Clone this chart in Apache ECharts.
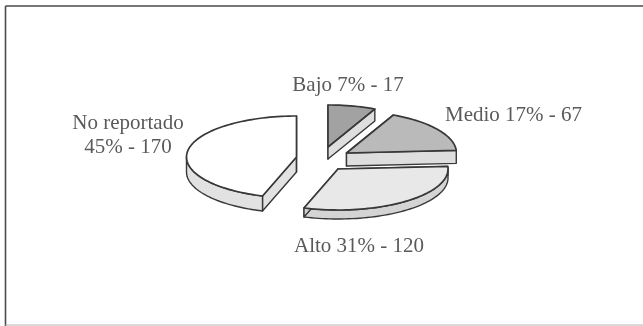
<!DOCTYPE html>
<html>
<head>
<meta charset="utf-8">
<style>html,body{margin:0;padding:0;background:#fff}#chart{width:643px;height:326px}</style>
<script src="https://cdn.jsdelivr.net/npm/echarts@6/dist/echarts.min.js"></script>
</head>
<body>
<div id="chart"></div>
<script>
// Nivel de riesgo: categories, share of the total and number of cases
const categories = ['Bajo', 'Medio', 'Alto', 'No reportado'];
const percents = [7, 17, 31, 45];
const counts = [17, 67, 120, 170];

// Exploded centre of each wedge, ellipse radii and extrusion depth
const wedgeCentres = [[328, 147], [346.5, 153], [338, 169], [296.5, 157]];
const radiusX = [110, 110, 110, 110];
const radiusY = [42, 42, 41, 41];
const depths = [12, 13, 9, 15];
const topColours = ['#a2a2a2', '#bababa', '#e8e8e8', '#ffffff'];
const wallColours = ['#dedede', '#dedede', '#d4d4d4', '#e2e2e2'];
const labelAnchors = [[348, 85, 'center'], [445, 115, 'left'], [359, 246, 'center'], [128, 135, 'center']];
const outline = '#383838';
const textColour = '#5a5a5a';

function captionFor(i) {
  const stats = percents[i] + '% - ' + counts[i];
  return i === 3 ? categories[i] + '\n' + stats : categories[i] + ' ' + stats;
}

// Point on a slice's top ellipse; angle in degrees, counter-clockwise from east
function rimPoint(i, deg) {
  const t = deg * Math.PI / 180;
  return [wedgeCentres[i][0] + radiusX[i] * Math.cos(t), wedgeCentres[i][1] - radiusY[i] * Math.sin(t)];
}

function arcPoints(i, from, to) {
  const n = Math.max(2, Math.ceil(Math.abs(to - from) / 2));
  const pts = [];
  for (let k = 0; k <= n; k++) pts.push(rimPoint(i, from + (to - from) * k / n));
  return pts;
}

const drop = (pts, d) => pts.map(p => [p[0], p[1] + d]);

function wall(points, fill, z) {
  return { type: 'polygon', z2: z, shape: { points }, style: { fill, stroke: outline, lineWidth: 1.4, lineJoin: 'round' } };
}

function renderWedge(params, api) {
  const i = api.value(0);
  const share = api.value(1);
  const before = percents.slice(0, i).reduce((a, b) => a + b, 0);
  // Wedges run clockwise from twelve o'clock
  const start = 90 - before * 3.6;
  const end = start - share * 3.6;
  const c = wedgeCentres[i];
  const d = depths[i];
  const children = [];

  const rimA = rimPoint(i, start);
  const rimB = rimPoint(i, end);
  children.push(wall([c, rimA, ...drop([rimA, c], d)], wallColours[i], 1));

  // Outer wall: only the part of the rim on the near side of the ellipse
  const lo = Math.max(end, -180);
  const hi = Math.min(start, 0);
  if (hi > lo) {
    const front = arcPoints(i, hi, lo);
    children.push(wall([...front, ...drop(front, d).reverse()], wallColours[i], 2));
  }
  children.push(wall([c, rimB, ...drop([rimB, c], d)], wallColours[i], 3));

  children.push({
    type: 'polygon',
    z2: 5,
    shape: { points: [c, ...arcPoints(i, start, end)] },
    style: { fill: topColours[i], stroke: outline, lineWidth: 1.7, lineJoin: 'round' }
  });

  const a = labelAnchors[i];
  children.push({
    type: 'text',
    z2: 6,
    style: {
      x: a[0], y: a[1], text: captionFor(i), align: a[2], verticalAlign: 'middle',
      fill: textColour, font: '21px "Liberation Serif"', lineHeight: 24
    }
  });
  return { type: 'group', children };
}

const chart = echarts.init(document.getElementById('chart'), null, { renderer: 'canvas' });
chart.setOption({
  animation: false,
  backgroundColor: '#ffffff',
  graphic: [
    { type: 'line', shape: { x1: 5.5, y1: 6, x2: 643, y2: 6 }, style: { stroke: '#4a4a4a', lineWidth: 1.6 } },
    { type: 'line', shape: { x1: 5.5, y1: 6, x2: 5.5, y2: 326 }, style: { stroke: '#4a4a4a', lineWidth: 1.6 } },
    { type: 'line', shape: { x1: 5.5, y1: 325, x2: 643, y2: 325 }, style: { stroke: '#b4b4b4', lineWidth: 1.2 } }
  ],
  series: [{
    type: 'custom',
    coordinateSystem: 'none',
    renderItem: renderWedge,
    data: percents.map((p, i) => [i, p])
  }]
});
</script>
</body>
</html>
